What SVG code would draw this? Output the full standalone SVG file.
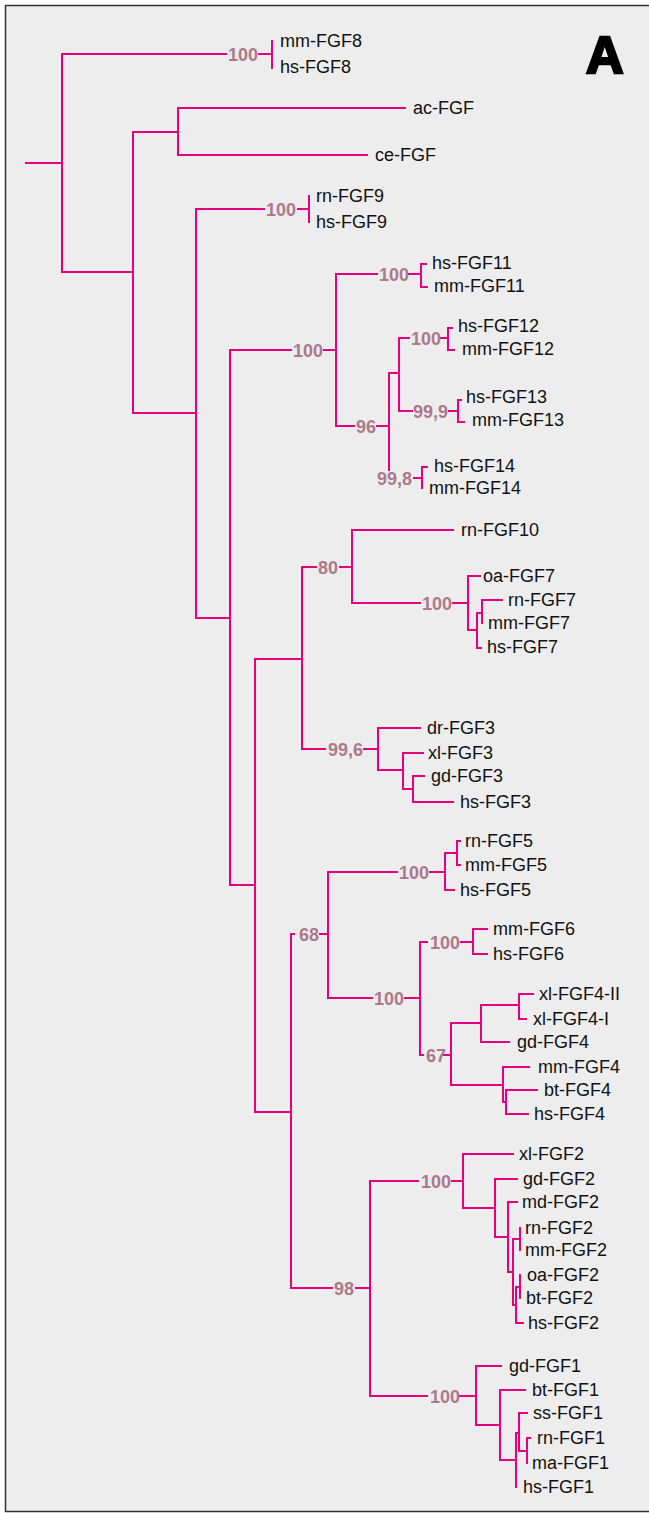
<svg xmlns="http://www.w3.org/2000/svg" width="649" height="1513" viewBox="0 0 649 1513">
<style>
.e{fill:none;stroke:#E6007E;stroke-width:2;stroke-linecap:square}
.t{font-family:"Liberation Sans",Arial,sans-serif;font-size:18px;fill:#111}
.b{font-family:"Liberation Sans",Arial,sans-serif;font-size:18px;font-weight:bold;fill:#AD788B}
.big{font-family:"Liberation Sans",Arial,sans-serif;font-size:52px;font-weight:bold;fill:#000;stroke:#000;stroke-width:2.5}
</style>
<rect x="5.5" y="5.5" width="660" height="1506" fill="#EDEDED" stroke="#333" stroke-width="1.5"/>
<text class="big" x="586" y="73">A</text>
<g id="connectors" class="e">
<path d="M26,163H62M62,54V272M62,54H226M259,54H272M272,41V68"/>
<path d="M62,272H133M133,132V413M133,132H178M178,108V155M178,108H405M178,155H367"/>
<path d="M133,413H196M196,209V618M196,209H264M298,209H309M309,196V222"/>
<path d="M196,618H230M230,350V885M230,350H291M324,350H336M336,274V426"/>
<path d="M336,274H377M409,274H421M421,264V287M421,264H426M421,287H427"/>
<path d="M336,426H354M377,426H389M389,373V470M389,373H399M399,338V411"/>
<path d="M399,338H409M441,338H448M448,328V350M448,328H452M448,350H454"/>
<path d="M399,411H412M449,411H458M458,400V422M458,400H461M458,422H464"/>
<path d="M414,478H422M422,467V488M422,467H427"/>
<path d="M230,885H255M255,659V1112M255,659H302M302,567V749"/>
<path d="M302,567H316M340,567H352M352,530V603M352,530H453"/>
<path d="M352,603H420M453,603H468M468,576V630M468,576H480M468,630H477M477,613V648M477,613H482M482,600V623M482,600H502M477,648H481"/>
<path d="M302,749H325M364,749H378M378,728V770M378,728H420M378,770H403M403,753V789M403,753H423M403,789H413M413,776V802M413,776H424M413,802H453"/>
<path d="M255,1112H291M291,934V1288M291,934H294M320,934H328M328,872V998"/>
<path d="M328,872H397M430,872H445M445,853V890M445,853H457M457,841V865M457,841H460M457,865H460M445,890H454"/>
<path d="M328,998H372M405,998H420M420,942V1055M420,942H427M461,942H473M473,929V954M473,929H487M473,954H487"/>
<path d="M420,1055H423M444,1055H451M451,1023V1085M451,1023H481M481,1005V1042M481,1005H519M519,994V1019M519,994H533M519,1019H526M481,1042H509"/>
<path d="M451,1085H503M503,1067V1102M503,1067H529M503,1102H506M506,1090V1114M506,1090H537M506,1114H528"/>
<path d="M291,1288H332M356,1288H370M370,1181V1396"/>
<path d="M370,1181H418M452,1181H463M463,1154V1208M463,1154H513M463,1208H495M495,1179V1237M495,1179H517M495,1237H508M508,1202V1272M508,1202H517M508,1272H513M513,1239V1305M513,1239H520M520,1228V1250M513,1305H516M516,1287V1323M516,1287H520M520,1275V1298M516,1323H523"/>
<path d="M370,1396H427M460,1396H476M476,1366V1425M476,1366H501M476,1425H500M500,1390V1460M500,1390H525M500,1460H516M516,1433V1487M516,1433H519M519,1413V1451M519,1413H527M519,1451H527M527,1438V1463M527,1438H530"/>
</g>
<g id="bootstrap">
<text class="b" x="228" y="60.5">100</text>
<text class="b" x="266" y="215.5">100</text>
<text class="b" x="293" y="356.5">100</text>
<text class="b" x="379" y="280.5">100</text>
<text class="b" x="356" y="432.5">96</text>
<text class="b" x="411" y="344.5">100</text>
<text class="b" x="413" y="417.5">99,9</text>
<text class="b" x="377" y="484.5">99,8</text>
<text class="b" x="318" y="573.5">80</text>
<text class="b" x="422" y="609.5">100</text>
<text class="b" x="328" y="755.5">99,6</text>
<text class="b" x="299" y="940.5">68</text>
<text class="b" x="399" y="878.5">100</text>
<text class="b" x="374" y="1004.5">100</text>
<text class="b" x="430" y="948.5">100</text>
<text class="b" x="426" y="1061.5">67</text>
<text class="b" x="334" y="1294.5">98</text>
<text class="b" x="421" y="1187.5">100</text>
<text class="b" x="430" y="1402.5">100</text>
</g>
<g id="mm-FGF8"><text class="t" x="280" y="47">mm-FGF8</text></g>
<g id="hs-FGF8"><text class="t" x="280" y="73">hs-FGF8</text></g>
<g id="ac-FGF"><text class="t" x="413" y="114">ac-FGF</text></g>
<g id="ce-FGF"><text class="t" x="375" y="161">ce-FGF</text></g>
<g id="rn-FGF9"><text class="t" x="316" y="202">rn-FGF9</text></g>
<g id="hs-FGF9"><text class="t" x="316" y="228">hs-FGF9</text></g>
<g id="hs-FGF11"><text class="t" x="432" y="269">hs-FGF11</text></g>
<g id="mm-FGF11"><text class="t" x="434" y="292">mm-FGF11</text></g>
<g id="hs-FGF12"><text class="t" x="458" y="332">hs-FGF12</text></g>
<g id="mm-FGF12"><text class="t" x="462" y="355">mm-FGF12</text></g>
<g id="hs-FGF13"><text class="t" x="466" y="403">hs-FGF13</text></g>
<g id="mm-FGF13"><text class="t" x="472" y="426">mm-FGF13</text></g>
<g id="hs-FGF14"><text class="t" x="434" y="472">hs-FGF14</text></g>
<g id="mm-FGF14"><text class="t" x="429" y="494">mm-FGF14</text></g>
<g id="rn-FGF10"><text class="t" x="461" y="536">rn-FGF10</text></g>
<g id="oa-FGF7"><text class="t" x="483" y="582">oa-FGF7</text></g>
<g id="rn-FGF7"><text class="t" x="508" y="606">rn-FGF7</text></g>
<g id="mm-FGF7"><text class="t" x="488" y="629">mm-FGF7</text></g>
<g id="hs-FGF7"><text class="t" x="487" y="653">hs-FGF7</text></g>
<g id="dr-FGF3"><text class="t" x="427" y="734">dr-FGF3</text></g>
<g id="xl-FGF3"><text class="t" x="428" y="759">xl-FGF3</text></g>
<g id="gd-FGF3"><text class="t" x="431" y="782">gd-FGF3</text></g>
<g id="hs-FGF3"><text class="t" x="460" y="808">hs-FGF3</text></g>
<g id="rn-FGF5"><text class="t" x="465" y="847">rn-FGF5</text></g>
<g id="mm-FGF5"><text class="t" x="465" y="871">mm-FGF5</text></g>
<g id="hs-FGF5"><text class="t" x="460" y="896">hs-FGF5</text></g>
<g id="mm-FGF6"><text class="t" x="493" y="935">mm-FGF6</text></g>
<g id="hs-FGF6"><text class="t" x="493" y="960">hs-FGF6</text></g>
<g id="xl-FGF4-II"><text class="t" x="539" y="1000">xl-FGF4-II</text></g>
<g id="xl-FGF4-I"><text class="t" x="533" y="1025">xl-FGF4-I</text></g>
<g id="gd-FGF4"><text class="t" x="517" y="1048">gd-FGF4</text></g>
<g id="mm-FGF4"><text class="t" x="538" y="1073">mm-FGF4</text></g>
<g id="bt-FGF4"><text class="t" x="544" y="1096">bt-FGF4</text></g>
<g id="hs-FGF4"><text class="t" x="534" y="1120">hs-FGF4</text></g>
<g id="xl-FGF2"><text class="t" x="519" y="1160">xl-FGF2</text></g>
<g id="gd-FGF2"><text class="t" x="523" y="1185">gd-FGF2</text></g>
<g id="md-FGF2"><text class="t" x="522" y="1208">md-FGF2</text></g>
<g id="rn-FGF2"><text class="t" x="525" y="1234">rn-FGF2</text></g>
<g id="mm-FGF2"><text class="t" x="525" y="1256">mm-FGF2</text></g>
<g id="oa-FGF2"><text class="t" x="527" y="1281">oa-FGF2</text></g>
<g id="bt-FGF2"><text class="t" x="526" y="1304">bt-FGF2</text></g>
<g id="hs-FGF2"><text class="t" x="528" y="1329">hs-FGF2</text></g>
<g id="gd-FGF1"><text class="t" x="509" y="1372">gd-FGF1</text></g>
<g id="bt-FGF1"><text class="t" x="532" y="1396">bt-FGF1</text></g>
<g id="ss-FGF1"><text class="t" x="533" y="1419">ss-FGF1</text></g>
<g id="rn-FGF1"><text class="t" x="537" y="1444">rn-FGF1</text></g>
<g id="ma-FGF1"><text class="t" x="532" y="1469">ma-FGF1</text></g>
<g id="hs-FGF1"><text class="t" x="523" y="1493">hs-FGF1</text></g>
</svg>
